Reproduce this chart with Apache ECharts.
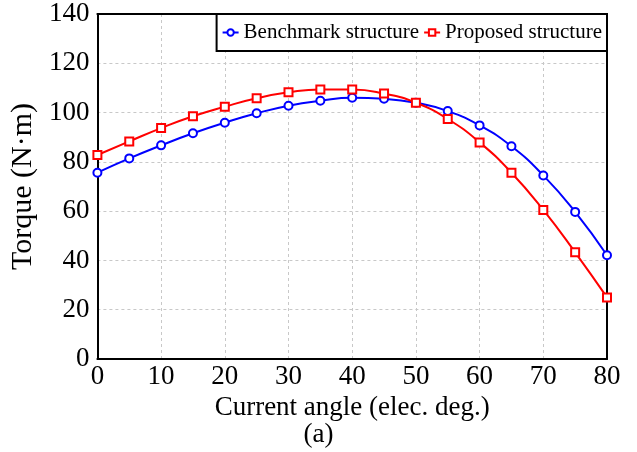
<!DOCTYPE html>
<html><head><meta charset="utf-8">
<script src="https://cdn.jsdelivr.net/npm/echarts@6/dist/echarts.min.js"></script>
<style>html,body{margin:0;padding:0;background:#fff}#c{width:637px;height:452px}</style>
</head><body><div id="c"></div>
<script>
const angles = [0,5,10,15,20,25,30,35,40,45,50,55,60,65,70,75,80];
const benchmark = [75.6,81.4,86.7,91.6,95.9,99.7,102.8,104.8,106.0,105.6,104.0,100.6,94.8,86.3,74.5,59.7,42.1];
const proposed = [82.8,88.3,93.7,98.5,102.4,105.8,108.2,109.4,109.4,107.7,104.0,97.4,87.9,75.6,60.5,43.3,25.0];
const seriesNames = ['Benchmark structure','Proposed structure'];
const xTitle = 'Current angle (elec. deg.)';
const yTitle = 'Torque (N·m)';
const caption = '(a)';

const font = '"Liberation Serif","Times New Roman",serif';
const frameAxis = {
  axisLine:{show:true,onZero:false,lineStyle:{color:'#000',width:2}},
  axisTick:{show:false},axisLabel:{show:false},splitLine:{show:false}
};
const chart = echarts.init(document.getElementById('c'));
chart.setOption({
  animation:false,
  textStyle:{fontFamily:font},
  title:{text:caption,left:'center',top:416,textStyle:{fontFamily:font,fontSize:27,fontWeight:'normal',color:'#000'}},
  legend:{
    top:14,right:30,
    backgroundColor:'#fff',borderColor:'#000',borderWidth:2,borderRadius:0,
    padding:[8,5,8,5],itemGap:4,itemWidth:16,itemHeight:8,
    textStyle:{fontFamily:font,fontSize:21,color:'#000'},
    data:seriesNames,z:10
  },
  grid:{left:97,right:30,top:14,bottom:93,containLabel:false},
  xAxis:[{
    type:'value',min:0,max:80,interval:10,
    name:xTitle,nameLocation:'middle',nameGap:33,
    nameTextStyle:{fontFamily:font,fontSize:27,color:'#000'},
    axisLine:{show:true,onZero:false,lineStyle:{color:'#000',width:2}},
    axisTick:{show:false},
    axisLabel:{fontFamily:font,fontSize:27,color:'#000',margin:4},
    splitLine:{show:true,lineStyle:{color:'#c8c8c8',type:[3,3],width:1}}
  },Object.assign({type:'value',min:0,max:80,interval:10,position:'top'},frameAxis)],
  yAxis:[{
    type:'value',min:0,max:140,interval:20,
    name:yTitle,nameLocation:'middle',nameGap:54,
    nameTextStyle:{fontFamily:font,fontSize:30,color:'#000'},
    axisLine:{show:true,onZero:false,lineStyle:{color:'#000',width:2}},
    axisTick:{show:false},
    axisLabel:{fontFamily:font,fontSize:27,color:'#000',margin:8},
    splitLine:{show:true,lineStyle:{color:'#c8c8c8',type:[3,3],width:1}}
  },Object.assign({type:'value',min:0,max:140,interval:20,position:'right'},frameAxis)],
  series:[
    {name:seriesNames[0],type:'line',smooth:true,data:angles.map((a,i)=>[a,benchmark[i]]),
     symbol:'emptyCircle',symbolSize:8,color:'#0000ff',
     lineStyle:{color:'#0000ff',width:2},itemStyle:{color:'#0000ff',borderWidth:1.5},z:2},
    {name:seriesNames[1],type:'line',smooth:true,data:angles.map((a,i)=>[a,proposed[i]]),
     symbol:'emptyRect',symbolSize:8,color:'#ff0000',
     lineStyle:{color:'#ff0000',width:2},itemStyle:{color:'#ff0000',borderWidth:1.5},z:3}
  ]
});
</script></body></html>
